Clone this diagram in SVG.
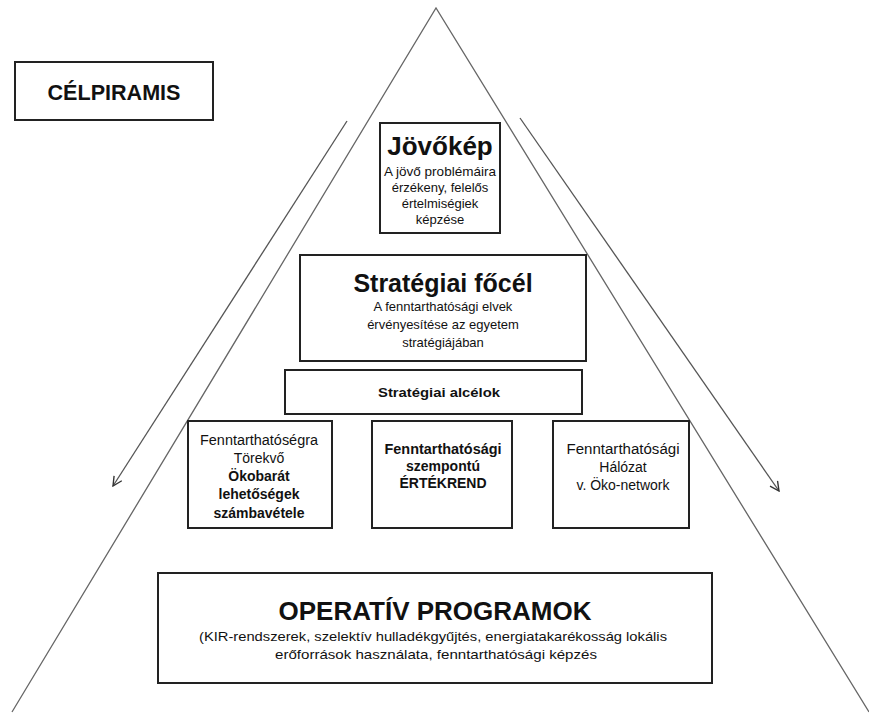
<svg xmlns="http://www.w3.org/2000/svg" width="869" height="713" viewBox="0 0 869 713">
  <style>
    .box { fill: #ffffff; stroke: #222222; stroke-width: 2; }
    .tri { fill: none; stroke: #666666; stroke-width: 1.3; }
    .arr { fill: none; stroke: #555555; stroke-width: 1.3; }
    text { font-family: "Liberation Sans", Arial, sans-serif; fill: #111111; text-anchor: middle; }
    .t1 { font-size: 26px; font-weight: bold; }
    .t2 { font-size: 13px; }
    .t3 { font-size: 14px; }
    .b { font-weight: bold; }
  </style>
  <defs>
    <marker id="open" viewBox="0 0 12 12" refX="11" refY="6" markerWidth="11" markerHeight="11" markerUnits="userSpaceOnUse" orient="auto">
      <path d="M1,1 L11,6 L1,11" fill="none" stroke="#333333" stroke-width="1.5"/>
    </marker>
  </defs>
  <rect width="869" height="713" fill="#ffffff"/>

  <g id="pyramid">
    <polyline class="tri" points="12,712 436,8 869,712"/>
  </g>

  <g id="connectors">
    <line class="arr" x1="347" y1="121" x2="113" y2="486" marker-end="url(#open)"/>
    <line class="arr" x1="520" y1="118" x2="779" y2="491" marker-end="url(#open)"/>
  </g>

  <g id="celpiramis">
    <rect class="box" x="15" y="62" width="198" height="58"/>
    <text x="114" y="100" style="font-size:22px;font-weight:bold" textLength="133" lengthAdjust="spacingAndGlyphs">CÉLPIRAMIS</text>
  </g>

  <g id="jovokep">
    <rect class="box" x="380" y="123" width="120" height="110"/>
    <text class="t1" x="440" y="155">Jövőkép</text>
    <text class="t2" x="440" y="176" textLength="112" lengthAdjust="spacingAndGlyphs">A   jövő problémáira</text>
    <text class="t2" x="440" y="192">érzékeny, felelős</text>
    <text class="t2" x="440" y="208">értelmiségiek</text>
    <text class="t2" x="440" y="224">képzése</text>
  </g>

  <g id="strategiai-focel">
    <rect class="box" x="300" y="255" width="286" height="106"/>
    <text class="t1" x="443" y="292" style="font-size:25px">Stratégiai főcél</text>
    <text class="t2" x="443" y="311">A fenntarthatósági elvek</text>
    <text class="t2" x="443" y="329">érvényesítése az egyetem</text>
    <text class="t2" x="443" y="347">stratégiájában</text>
  </g>

  <g id="strategiai-alcelok">
    <rect class="box" x="285" y="370" width="297" height="44"/>
    <text class="t2 b" x="439" y="397" textLength="122" lengthAdjust="spacingAndGlyphs">Stratégiai alcélok</text>
  </g>

  <g id="okobarat">
    <rect class="box" x="188" y="421" width="144" height="107"/>
    <text class="t3" x="259" y="445" textLength="118" lengthAdjust="spacingAndGlyphs">Fenntarthatóségra</text>
    <text class="t3" x="259" y="463">Törekvő</text>
    <text class="t3 b" x="259" y="481">Ökobarát</text>
    <text class="t3 b" x="259" y="499">lehetőségek</text>
    <text class="t3 b" x="259" y="518">számbavétele</text>
  </g>

  <g id="ertekrend">
    <rect class="box" x="372" y="421" width="140" height="107"/>
    <text class="t3 b" x="443" y="454" textLength="117" lengthAdjust="spacingAndGlyphs">Fenntarthatósági</text>
    <text class="t3 b" x="443" y="471">szempontú</text>
    <text class="t3 b" x="443" y="488">ÉRTÉKREND</text>
  </g>

  <g id="halozat">
    <rect class="box" x="553" y="421" width="136" height="107"/>
    <text class="t3" x="623" y="454" textLength="113" lengthAdjust="spacingAndGlyphs">Fenntarthatósági</text>
    <text class="t3" x="623" y="472">Hálózat</text>
    <text class="t3" x="623" y="490">v. Öko-network</text>
  </g>

  <g id="operativ">
    <rect class="box" x="158" y="573" width="554" height="110"/>
    <text x="435" y="620" style="font-size:26px;font-weight:bold">OPERATÍV PROGRAMOK</text>
    <text class="t2" x="433" y="641" textLength="468" lengthAdjust="spacingAndGlyphs">(KIR-rendszerek,  szelektív  hulladékgyűjtés, energiatakarékosság   lokális</text>
    <text class="t2" x="436" y="659" textLength="322" lengthAdjust="spacingAndGlyphs">erőforrások használata, fenntarthatósági képzés</text>
  </g>
</svg>
